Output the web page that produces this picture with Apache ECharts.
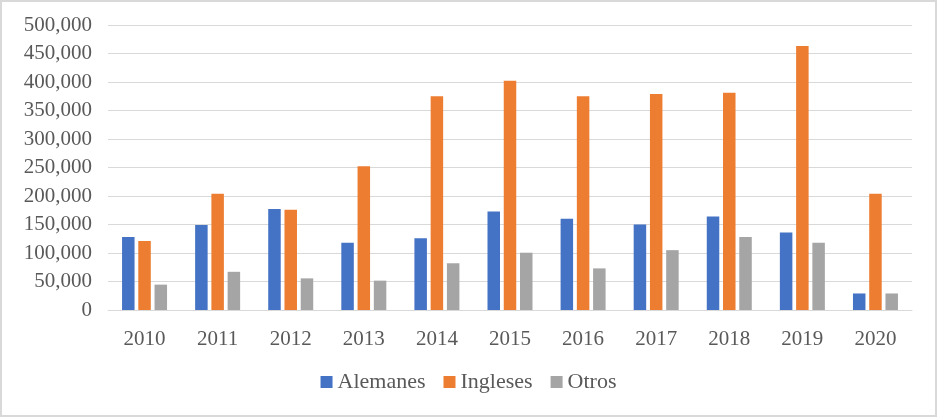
<!DOCTYPE html>
<html>
<head>
<meta charset="utf-8">
<script src="https://cdn.jsdelivr.net/npm/echarts@6/dist/echarts.min.js"></script>
<style>
html,body{margin:0;padding:0;background:#fff;}
#chart{width:937px;height:417px;box-sizing:border-box;border:2px solid #d9d9d9;}
</style>
</head>
<body>
<div id="chart"></div>
<script>
const categories = ['2010','2011','2012','2013','2014','2015','2016','2017','2018','2019','2020'];
const alemanes = [128000,149000,177000,118000,126000,173000,160000,150000,164000,136000,29000];
const ingleses = [121000,204000,176000,252000,375000,402000,375000,379000,381000,463000,204000];
const otros = [44500,67000,55500,51500,82000,100500,73000,105000,128000,118000,29000];
const seriesNames = ['Alemanes','Ingleses','Otros'];
const colors = ['#4472C4','#ED7D31','#A5A5A5'];

const chart = echarts.init(document.getElementById('chart'), null, {renderer:'canvas'});
const font = '"Liberation Serif", "DejaVu Serif", serif';
const textColor = '#595959';

chart.setOption({
  animation:false,
  color:colors,
  textStyle:{fontFamily:font},
  grid:{left:106,right:23,top:23,bottom:105,containLabel:false},
  legend:{
    bottom:17, left:'center',
    itemWidth:12, itemHeight:12, itemGap:18,
    icon:'rect',
    textStyle:{fontFamily:font,fontSize:22,color:textColor},
    data:seriesNames
  },
  xAxis:{
    type:'category',
    data:categories,
    axisTick:{show:false},
    axisLine:{lineStyle:{color:'#d9d9d9',width:1}},
    axisLabel:{fontFamily:font,fontSize:21,color:textColor,margin:19}
  },
  yAxis:{
    type:'value',
    min:0,max:500000,interval:50000,
    axisLine:{show:false},
    axisTick:{show:false},
    splitLine:{lineStyle:{color:'#d9d9d9',width:1}},
    axisLabel:{fontFamily:font,fontSize:21,color:textColor,margin:16,
      formatter:v=>v.toLocaleString('en-US')}
  },
  series:[
    {name:seriesNames[0],type:'bar',data:alemanes,barWidth:12.5,barGap:'30%'},
    {name:seriesNames[1],type:'bar',data:ingleses,barWidth:12.5,barGap:'30%'},
    {name:seriesNames[2],type:'bar',data:otros,barWidth:12.5,barGap:'30%'}
  ]
});
</script>
</body>
</html>
